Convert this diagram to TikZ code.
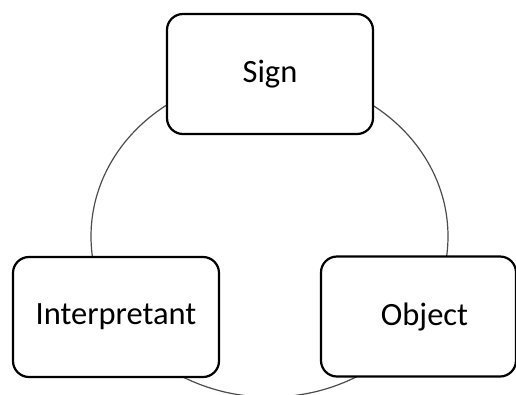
\documentclass[tikz,border=0pt]{standalone}
\usepackage{fontspec}
\setmainfont{Carlito}
\begin{document}
\begin{tikzpicture}[x=1pt,y=-1pt,
  box/.style={draw=black, line width=2.2pt, fill=white, rounded corners=16pt,
    minimum width=206pt, minimum height=120pt, inner sep=0pt,
    font=\fontsize{32.5}{36}\selectfont},
  ring/.style={draw=black!70, line width=1.2pt}]
\useasboundingbox (0,0) rectangle (516,394);
\draw[ring] (269.5,236.4) ellipse [x radius=178.5, y radius=160.7];
\node[box] (sign) at (270,74) {Sign};
\node[box] (interp) at (116,317) {Interpretant};
\node[box, minimum width=195pt] (object) at (418.5,316.5) {\hspace*{12pt}Object};
\end{tikzpicture}
\end{document}
